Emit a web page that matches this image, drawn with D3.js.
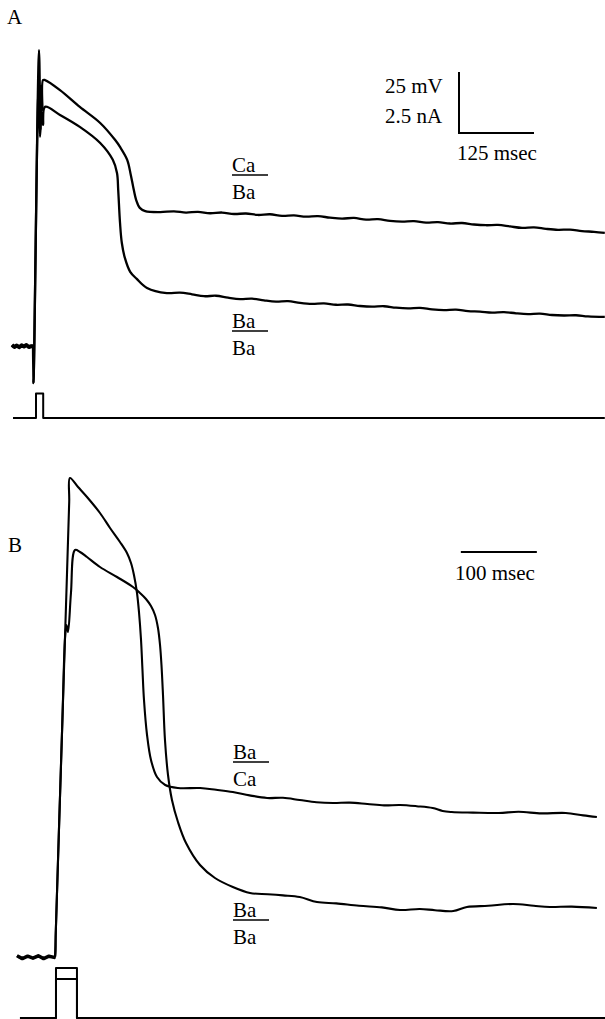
<!DOCTYPE html>
<html>
<head>
<meta charset="utf-8">
<script src="https://cdn.jsdelivr.net/npm/d3@7"></script>
<style>
  body { margin: 0; background: #fff; }
  svg text { font-family: "Liberation Serif", "DejaVu Serif", serif; fill: #000; }
</style>
</head>
<body>
<svg id="chart" width="605" height="1019"></svg>
<script>
// Panel A, time in msec and membrane potential in mV
var aCaBaTime = [0, 4, 8, 12, 16, 20, 24, 28, 32, 35, 35.8, 45, 47.5, 49.2, 50.8, 51.7, 55, 80, 113, 147, 172, 180, 192, 198, 202, 207, 213, 222, 247,
  270, 290, 310, 330, 350, 370, 390, 410, 430, 450, 470, 490, 510, 530, 550, 570, 590, 610, 630, 650, 670, 690, 710, 730, 750,
  770, 790, 810, 830, 850, 870, 890, 910, 930, 950, 970, 988];
var aCaBaVolt = [-79.6, -80.4, -79.8, -80.5, -79.7, -80.2, -79.6, -80.4, -80.1, -80, -95.2, 41.3, 8.5, 27.0, 16.7, 29.0, 29.0, 24.9, 18.0, 11.4, 4.4, 1.6, -3.7, -9.9, -14.8, -20.2, -23.4, -24.7, -25.1,
  -24.8, -25.3, -25.0, -25.6, -25.3, -25.9, -25.7, -26.3, -26.0, -26.7, -26.5, -27.0, -26.8, -27.4, -27.8, -27.5, -28.2, -28.0, -28.7, -29.0, -28.8, -29.4, -29.2, -29.8, -29.6,
  -30.2, -30.5, -30.4, -31.0, -31.6, -31.4, -32.0, -32.4, -32.3, -32.9, -33.2, -33.6];
var aRestCount = 10;

var aBaBaTime = [35, 35.8, 44.2, 46.7, 49.2, 51.7, 55, 80, 113, 147, 168, 175, 177, 180, 183, 188, 197, 208, 225, 258,
  280, 300, 320, 340, 360, 380, 400, 420, 440, 460, 480, 500, 520, 540, 560, 580, 600, 620, 640, 660, 680, 700, 720, 740,
  760, 780, 800, 820, 840, 860, 880, 900, 920, 940, 960, 988];
var aBaBaVolt = [-80, -95.2, 24.9, 5.7, 15.9, 10.6, 18.0, 14.7, 9.8, 3.2, -3.7, -9.1, -16.0, -29.4, -37.7, -43.8, -49.6, -52.5, -56.2, -58.3,
  -58.1, -58.8, -59.6, -59.4, -60.2, -60.8, -60.6, -61.3, -61.8, -61.6, -62.3, -62.7, -62.5, -63.1, -63.0, -63.6, -63.9, -63.7, -64.3, -64.6, -64.4, -65.0, -65.3, -65.1,
  -65.7, -65.9, -66.3, -66.1, -66.6, -66.9, -66.7, -67.3, -67.5, -67.4, -67.9, -68.1];

// stimulus current, nA
var aStimTime = [1.7, 40, 40, 52, 52, 988];
var aStimAmp = [0, 0, 1.0, 1.0, 0, 0];

// Panel B
var bBaCaTime = [0, 7, 14, 21, 28, 35, 42, 49, 50, 51, 54.9, 59.85, 64.8, 68.7, 69.7, 80.3, 92.1, 109.2, 122.4, 135.5, 144.7, 150, 153.9, 157.9, 160.5, 163.2, 165.1, 167.1, 171.1, 176.3, 184.2, 195, 211.8, 241,
  262, 284, 306, 329, 350, 372, 394, 416, 438, 461, 483, 504, 526, 547, 560, 572, 600, 634, 660, 690, 722, 745, 763];
var bBaCaVolt = [-79.7, -80.4, -79.8, -80.3, -79.7, -80.4, -79.8, -80.1, -80, -74, -50.1, -20.1, 9.8, 33.8, 39.75, 37.5, 35, 31, 27.25, 23.75, 21, 18.5, 15.5, 11, 6.25, -0.75, -8.25, -15.75, -24.5, -30.75, -35, -37, -37.75, -37.75,
  -38.2, -38.75, -39.6, -40.25, -40.2, -40.75, -41.3, -41.5, -41.4, -41.75, -42.1, -42, -42.3, -42.75, -43.5, -43.75, -43.9, -44, -43.7, -44.1, -44, -44.6, -45];
var bRestCount = 9;

var bBaBaTime = [50, 51, 54.9, 59.85, 63.2, 65.1, 67.1, 71, 76.3, 82.9, 92.1, 109.2, 131.6, 152.6, 161.8, 169.7, 176.3, 181.6, 185.5, 188.2, 190.1, 192.1, 194.7, 198.7, 203.9, 211.8, 222.4, 240.8,
  260.5, 284, 306.6, 330, 350, 372, 394.7, 420, 450, 480, 504, 530, 550, 574, 592, 620, 653, 680, 701, 730, 763];
var bBaBaVolt = [-80, -74, -50.1, -20.1, -0.25, 3, 1.25, 11, 21.75, 21.25, 20, 17.5, 15, 12.5, 11, 9.5, 7.75, 5.5, 2.25, -2, -7, -14.5, -25.75, -34.5, -40.75, -46.25, -51.5, -57,
  -60.25, -62.5, -64, -64.3, -64.6, -65, -66.25, -66.6, -67.2, -67.6, -68.25, -68, -68.3, -68.5, -67.5, -67.2, -66.75, -67.2, -67.5, -67.4, -67.75];

var bStimTime = [3.9, 51.3, 51.3, 78.9, 78.9, 774];
var bStimHigh = [0, 0, 2.5, 2.5, 0, 0];
var bStimLow = [0, 0, 1.95, 1.95, 0, 0];

function zip(t, v) {
  return t.map((d, i) => [d, v[i]]);
}

var svg = d3.select("#chart");

// scales (scale bars set the gain)
var xA = d3.scaleLinear().domain([0, 125]).range([12, 87]);
var yA = d3.scaleLinear().domain([-80, 20]).range([346, 102]);
var iA = d3.scaleLinear().domain([0, 2.5]).range([418, 357]);

var xB = d3.scaleLinear().domain([0, 100]).range([17, 93]);
var yB = d3.scaleLinear().domain([-80, 20]).range([957, 557]);
var iB = d3.scaleLinear().domain([0, 2.5]).range([1018, 968]);

function drawTrace(data, x, y, w, curve) {
  var line = d3.line().x(d => x(d[0])).y(d => y(d[1])).curve(curve || d3.curveLinear);
  svg.append("path")
    .datum(data)
    .attr("d", line)
    .attr("fill", "none")
    .attr("stroke", "#000")
    .attr("stroke-width", w)
    .attr("stroke-linejoin", "round");
}

var smooth = d3.curveCatmullRom.alpha(0.5);

// Panel A
var aCaBa = zip(aCaBaTime, aCaBaVolt);
drawTrace(aCaBa, xA, yA, 2.3, smooth);
drawTrace(aCaBa.slice(0, aRestCount), xA, yA, 4);   // noisy resting baseline
drawTrace(zip(aBaBaTime, aBaBaVolt), xA, yA, 2.3, smooth);
drawTrace(zip(aStimTime, aStimAmp), xA, iA, 2);

// Panel B
var bBaCa = zip(bBaCaTime, bBaCaVolt);
drawTrace(bBaCa, xB, yB, 2.1, smooth);
drawTrace(bBaCa.slice(0, bRestCount), xB, yB, 3.5);
drawTrace(zip(bBaBaTime, bBaBaVolt), xB, yB, 2.1, smooth);
drawTrace(zip(bStimTime, bStimHigh), xB, iB, 2);
drawTrace(zip(bStimTime, bStimLow), xB, iB, 2);

// scale bars
var barA = { t: 745, v: 7.3 };
svg.append("path")
  .attr("d", d3.line()([[xA(barA.t), yA(barA.v + 25)], [xA(barA.t), yA(barA.v)], [xA(barA.t + 125), yA(barA.v)]]))
  .attr("fill", "none").attr("stroke", "#000").attr("stroke-width", 2);

var barB = { t: 584, v: 21.25 };
svg.append("line")
  .attr("x1", xB(barB.t)).attr("x2", xB(barB.t + 100))
  .attr("y1", yB(barB.v)).attr("y2", yB(barB.v))
  .attr("stroke", "#000").attr("stroke-width", 2);

// text
function label(x, y, s, size) {
  svg.append("text").attr("x", x).attr("y", y).attr("font-size", size || 21).text(s);
}
label(7, 24, "A", 21);
label(8, 552, "B", 21);
label(385, 93, "25 mV");
label(385, 123, "2.5 nA");
label(457, 160, "125 msec");
label(455, 580, "100 msec");

// solution labels: bath over pipette
var solLabels = [
  { x: 232, y: 172, top: "Ca", bottom: "Ba" },
  { x: 232, y: 328, top: "Ba", bottom: "Ba" },
  { x: 233, y: 759, top: "Ba", bottom: "Ca" },
  { x: 233, y: 917, top: "Ba", bottom: "Ba" }
];
solLabels.forEach((d) => {
  label(d.x, d.y, d.top);
  svg.append("line")
    .attr("x1", d.x).attr("x2", d.x + 36)
    .attr("y1", d.y + 3).attr("y2", d.y + 3)
    .attr("stroke", "#000").attr("stroke-width", 1.3);
  label(d.x, d.y + 27, d.bottom);
});
</script>
</body>
</html>
